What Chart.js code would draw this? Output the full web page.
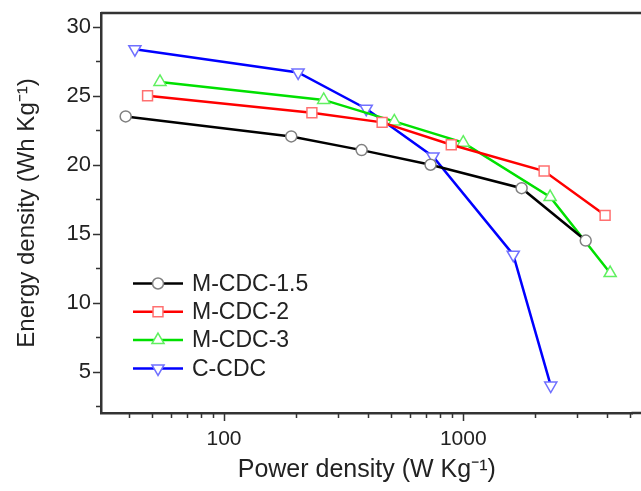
<!DOCTYPE html>
<html>
<head>
<meta charset="utf-8">
<title>Energy vs power density</title>
<script src="https://cdn.jsdelivr.net/npm/chart.js@4.4.0/dist/chart.umd.min.js"></script>
<style>
  body { margin: 0; background: #fff; }
  canvas { display: block; }
</style>
</head>
<body>
<canvas id="grafico" width="641" height="491"></canvas>
<script>
// datos (W/kg, Wh/kg)
const potenciaMcdc15 = [38.8, 191, 376, 730, 1754, 3251];
const energiaMcdc15 = [23.5, 22.05, 21.06, 20.0, 18.3, 14.5];
const potenciaMcdc2 = [47.9, 233, 458, 891, 2178, 3918];
const energiaMcdc2 = [25.0, 23.77, 23.07, 21.45, 19.54, 16.33];
const potenciaMcdc3 = [54, 261, 515, 1000, 2308, 4113];
const energiaMcdc3 = [26.0, 24.7, 23.14, 21.6, 17.66, 12.15];
const potenciaCcdc = [42.4, 204, 393, 747, 1618, 2322];
const energiaCcdc = [28.38, 26.69, 24.06, 20.6, 13.48, 3.99];

const nombresSeries = ['M-CDC-1.5', 'M-CDC-2', 'M-CDC-3', 'C-CDC'];
const ticksX = [40, 50, 60, 70, 80, 90, 100, 200, 300, 400, 500, 600, 700, 800, 900, 1000, 2000, 3000, 4000, 5000];
const ticksY = [2.5, 5, 7.5, 10, 12.5, 15, 17.5, 20, 22.5, 25, 27.5, 30];

const fuente = '"Liberation Sans", Arial, sans-serif';
Chart.defaults.font.family = fuente;
Chart.defaults.color = '#222';

function puntos(xs, ys) {
    return xs.map((x, i) => ({ x: x, y: ys[i] }));
}

function serie(nombre, xs, ys, linea, marca, estilo, rotacion) {
    return {
        label: nombre,
        data: puntos(xs, ys),
        borderColor: linea,
        borderWidth: 2.5,
        pointStyle: estilo,
        pointRotation: rotacion,
        pointRadius: estilo === 'circle' ? 5.5 : 7,
        pointBorderColor: marca,
        pointBackgroundColor: '#fff',
        pointBorderWidth: 1.5,
        tension: 0,
        clip: false
    };
}

const esMayorX = v => v === 100 || v === 1000;
const esMayorY = v => v % 5 === 0;

function dibujarMarca(ctx, ds, x, y) {
    const r = ds.pointRadius;
    ctx.save();
    ctx.fillStyle = '#fff';
    ctx.strokeStyle = ds.pointBorderColor;
    ctx.lineWidth = ds.pointBorderWidth;
    ctx.beginPath();
    if (ds.pointStyle === 'circle') {
        ctx.arc(x, y, r, 0, Math.PI * 2);
    } else if (ds.pointStyle === 'rect') {
        const s = r * Math.SQRT1_2;
        ctx.rect(x - s, y - s, 2 * s, 2 * s);
    } else {
        let ang = (ds.pointRotation || 0) * Math.PI / 180;
        for (let k = 0; k < 3; k++) {
            const px = x + Math.sin(ang) * r;
            const py = y - Math.cos(ang) * r;
            if (k === 0) ctx.moveTo(px, py); else ctx.lineTo(px, py);
            ang += 2 * Math.PI / 3;
        }
        ctx.closePath();
    }
    ctx.fill();
    ctx.stroke();
    ctx.restore();
}

const marcasEjes = {
    id: 'marcasEjes',
    afterDraw(chart) {
        const { ctx, chartArea } = chart;
        const ejeX = chart.scales.x;
        const ejeY = chart.scales.y;
        ctx.save();
        ctx.strokeStyle = '#333';
        ctx.lineWidth = 1.5;
        ctx.beginPath();
        ticksX.forEach(v => {
            const px = Math.round(ejeX.getPixelForValue(v)) + 0.5;
            ctx.moveTo(px, chartArea.bottom);
            ctx.lineTo(px, chartArea.bottom + (esMayorX(v) ? 8 : 5));
        });
        ticksY.forEach(v => {
            const py = Math.round(ejeY.getPixelForValue(v)) + 0.5;
            ctx.moveTo(chartArea.left, py);
            ctx.lineTo(chartArea.left - (esMayorY(v) ? 8 : 5), py);
        });
        ctx.stroke();
        // marco: borde superior y eje inferior hasta el borde de la figura
        ctx.lineWidth = 2.5;
        ctx.beginPath();
        ctx.moveTo(chartArea.left, chartArea.top);
        ctx.lineTo(chart.width, chartArea.top);
        ctx.moveTo(chartArea.right - 1, chartArea.bottom);
        ctx.lineTo(chart.width, chartArea.bottom);
        ctx.stroke();
        ctx.restore();
    }
};

const leyenda = {
    id: 'leyenda',
    afterDatasetsDraw(chart) {
        const ctx = chart.ctx;
        chart.data.datasets.forEach((ds, i) => {
            const y = 283.5 + i * 28.3;
            ctx.save();
            ctx.strokeStyle = ds.borderColor;
            ctx.lineWidth = 2.5;
            ctx.beginPath();
            ctx.moveTo(133, y);
            ctx.lineTo(183, y);
            ctx.stroke();
            ctx.restore();
            dibujarMarca(ctx, ds, 158, y);
            ctx.save();
            ctx.fillStyle = '#222';
            ctx.font = '23px ' + fuente;
            ctx.textBaseline = 'middle';
            ctx.fillText(ds.label, 192, y + 1);
            ctx.restore();
        });
    }
};

const contexto = document.getElementById('grafico').getContext('2d');
new Chart(contexto, {
    type: 'line',
    data: {
        datasets: [
            serie(nombresSeries[0], potenciaMcdc15, energiaMcdc15, '#000000', '#808080', 'circle', 0),
            serie(nombresSeries[1], potenciaMcdc2, energiaMcdc2, '#ff0000', '#ff7070', 'rect', 0),
            serie(nombresSeries[2], potenciaMcdc3, energiaMcdc3, '#00e000', '#60f060', 'triangle', 0),
            serie(nombresSeries[3], potenciaCcdc, energiaCcdc, '#0000ff', '#7070ff', 'triangle', 180)
        ]
    },
    options: {
        responsive: false,
        animation: false,
        layout: { padding: { top: 13, right: 0, left: 0, bottom: 0 } },
        plugins: {
            legend: { display: false },
            tooltip: { enabled: false }
        },
        scales: {
            x: {
                type: 'logarithmic',
                min: 30.6,
                max: 5100,
                afterFit: s => { s.height = 78; s.paddingRight = 0; s.paddingLeft = 0; },
                afterBuildTicks: s => { s.ticks = ticksX.map(v => ({ value: v })); },
                grid: { drawOnChartArea: false, tickLength: 8, tickColor: 'transparent' },
                border: { color: '#333', width: 2.5 },
                ticks: {
                    padding: 6,
                    autoSkip: false,
                    maxRotation: 0,
                    font: { size: 21 },
                    callback: v => esMayorX(v) ? String(v) : ''
                },
                title: {
                    display: true,
                    text: 'Power density (W Kg⁻¹)',
                    font: { size: 25 },
                    padding: { top: 0, bottom: 6 }
                }
            },
            y: {
                min: 2,
                max: 31,
                afterFit: s => { s.width = 101; s.paddingTop = 0; s.paddingBottom = 0; },
                afterBuildTicks: s => { s.ticks = ticksY.map(v => ({ value: v })); },
                grid: { drawOnChartArea: false, tickLength: 8, tickColor: 'transparent' },
                border: { color: '#333', width: 2.5 },
                ticks: {
                    padding: 2,
                    autoSkip: false,
                    font: { size: 22 },
                    callback: v => esMayorY(v) ? String(v) : ''
                },
                title: {
                    display: true,
                    text: 'Energy density (Wh Kg⁻¹)',
                    font: { size: 24 },
                    padding: { top: 13, bottom: 0 }
                }
            }
        }
    },
    plugins: [marcasEjes, leyenda]
});
</script>
</body>
</html>
